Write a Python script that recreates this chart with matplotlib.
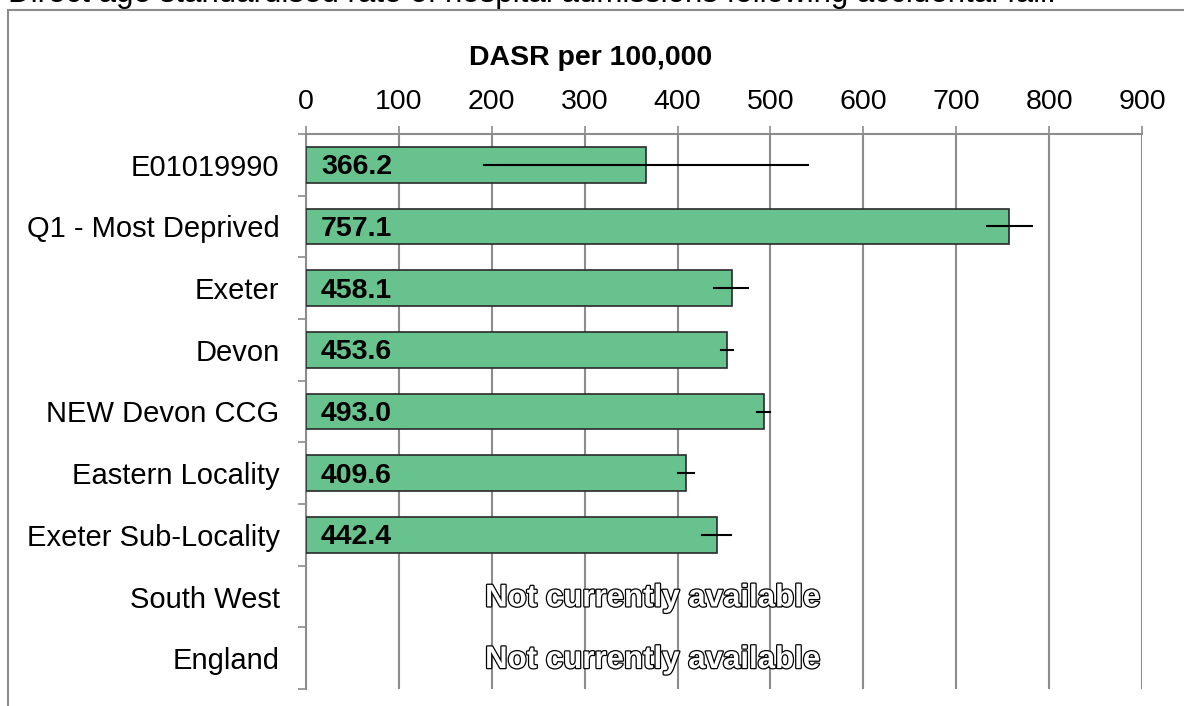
import matplotlib
matplotlib.use('Agg')
import matplotlib.pyplot as plt
import matplotlib.patheffects as pe
from matplotlib.patches import Rectangle
from matplotlib.ticker import FixedLocator

plt.rcParams['font.family'] = ['Liberation Sans', 'DejaVu Sans']

# areas, top to bottom
areas = ['E01019990', 'Q1 - Most Deprived', 'Exeter', 'Devon', 'NEW Devon CCG',
         'Eastern Locality', 'Exeter Sub-Locality', 'South West', 'England']
# DASR per 100,000 (None = not available)
dasr = [366.2, 757.1, 458.1, 453.6, 493.0, 409.6, 442.4, None, None]
# confidence interval limits
ci_low = [192, 733, 439, 447, 486, 401, 426, None, None]
ci_high = [540, 782, 476, 460, 500, 418, 458, None, None]
xticks = [0, 100, 200, 300, 400, 500, 600, 700, 800, 900]

fig = plt.figure(figsize=(11.84, 7.06), dpi=100)
ax = fig.add_axes([306/1184, 1-689/706, (1142-306)/1184, (689-134)/706])

# outer chart frame
fig.patches.append(Rectangle((8/1184, -0.1), 1.1, 1.1-10/706, transform=fig.transFigure,
                             fill=False, edgecolor='#8c8c8c', linewidth=1.5))

# title sits partly above the top edge, as in the original
fig.text(8/1184, 1-2/706, 'Direct age standardised rate of hospital admissions following accidental fall.',
         fontsize=22.5, ha='left', va='baseline')
fig.text(591/1184, 1-58/706, 'DASR per 100,000', fontsize=20.5, fontweight='bold',
         ha='center', va='center')

ypos = list(range(len(areas)))
for i, v in enumerate(dasr):
    if v is None:
        t = ax.text(373, i + 0.03, 'Not currently available', fontsize=22.5, fontweight='bold',
                    color='white', ha='center', va='center')
        t.set_path_effects([pe.Stroke(linewidth=1.8, foreground='black'), pe.Normal()])
        continue
    ax.barh(i, v, height=0.58, color='#67c28e', edgecolor='#2a2a2a', linewidth=1.2, zorder=3)
    ax.plot([ci_low[i], ci_high[i]], [i, i], color='black', linewidth=1.5, zorder=4)
    ax.text(16, i + 0.04, f'{v:.1f}', fontsize=20.5, fontweight='bold', ha='left', va='center', zorder=5)

ax.set_xlim(0, 900)
ax.set_ylim(len(areas) - 0.5, -0.5)
ax.set_xticks(xticks)
ax.xaxis.tick_top()
ax.tick_params(axis='x', length=6, width=1.2, color='#8c8c8c', pad=8, labelsize=20.5)
ax.set_yticks(ypos)
ax.set_yticklabels(areas)
ax.yaxis.set_minor_locator(FixedLocator([i - 0.5 for i in range(len(areas) + 1)]))
ax.tick_params(axis='y', which='major', length=0, pad=19, labelsize=21)
ax.tick_params(axis='y', which='minor', length=6, width=1.2, color='#8c8c8c')

ax.grid(axis='x', color='#8c8c8c', linewidth=1.5, zorder=0)
ax.set_axisbelow(True)
for s in ['right', 'bottom']:
    ax.spines[s].set_visible(False)
for s in ['top', 'left']:
    ax.spines[s].set_color('#8c8c8c')
    ax.spines[s].set_linewidth(1.5)

fig.savefig('out.png', dpi=100)
